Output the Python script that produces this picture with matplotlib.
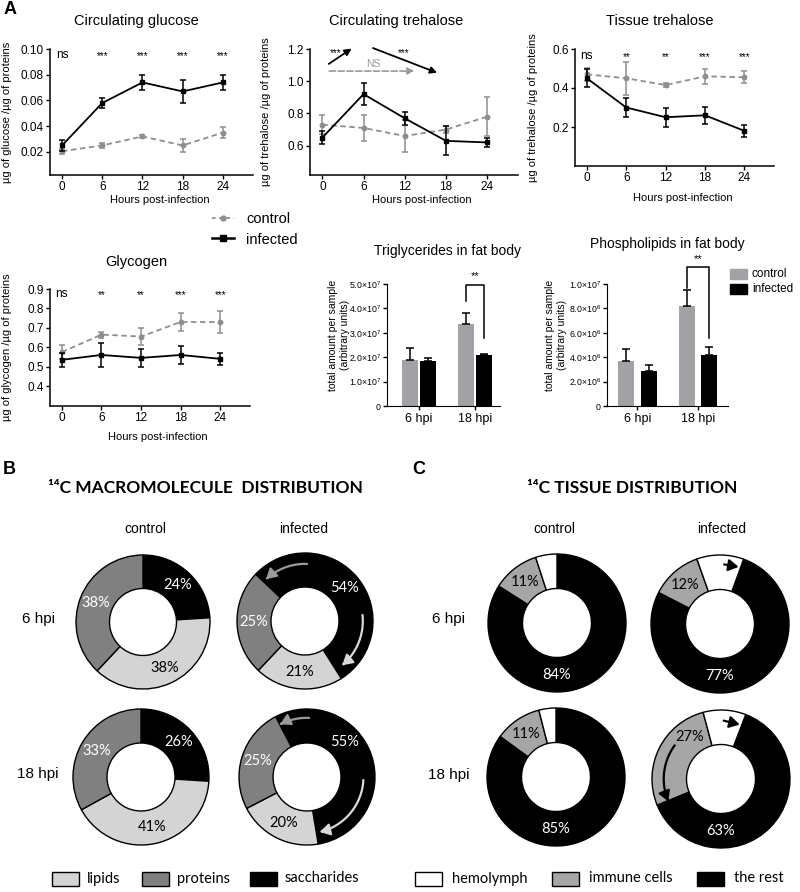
import numpy as np
import matplotlib
matplotlib.use("Agg")
import matplotlib.pyplot as plt
from matplotlib.lines import Line2D
from matplotlib.patches import FancyArrowPatch, Rectangle
from matplotlib.path import Path

plt.rcParams['font.family'] = ['Liberation Sans', 'DejaVu Sans']
plt.rcParams['mathtext.default'] = 'regular'

# ---------------- DATA ----------------
hours = [0, 6, 12, 18, 24]

glucose_ctrl = [0.0205, 0.025, 0.032, 0.025, 0.035]
glucose_ctrl_err = [0.002, 0.002, 0.001, 0.005, 0.004]
glucose_inf = [0.025, 0.058, 0.074, 0.067, 0.074]
glucose_inf_err = [0.004, 0.004, 0.006, 0.009, 0.006]
glucose_stars = ['ns', '***', '***', '***', '***']

treh_ctrl = [0.73, 0.71, 0.66, 0.70, 0.78]
treh_ctrl_err = [0.06, 0.08, 0.10, 0.02, 0.12]
treh_inf = [0.65, 0.92, 0.77, 0.63, 0.62]
treh_inf_err = [0.04, 0.07, 0.04, 0.09, 0.03]

tissue_ctrl = [0.47, 0.45, 0.415, 0.46, 0.455]
tissue_ctrl_err = [0.035, 0.085, 0.01, 0.04, 0.03]
tissue_inf = [0.45, 0.30, 0.25, 0.26, 0.18]
tissue_inf_err = [0.045, 0.05, 0.05, 0.045, 0.03]
tissue_stars = ['ns', '**', '**', '***', '***']

glyco_ctrl = [0.575, 0.665, 0.655, 0.73, 0.73]
glyco_ctrl_err = [0.035, 0.015, 0.045, 0.045, 0.057]
glyco_inf = [0.535, 0.56, 0.545, 0.56, 0.54]
glyco_inf_err = [0.035, 0.063, 0.045, 0.045, 0.03]
glyco_stars = ['ns', '**', '**', '***', '***']

bar_groups = ['6 hpi', '18 hpi']
trig_ctrl = [1.9e7, 3.37e7]
trig_ctrl_err = [0.48e7, 0.43e7]
trig_inf = [1.85e7, 2.1e7]
trig_inf_err = [0.1e7, 0.03e7]
trig_yticks = [0, 1e7, 2e7, 3e7, 4e7, 5e7]
trig_yticklabels = ['0', '1.0×10$^{7}$', '2.0×10$^{7}$', '3.0×10$^{7}$', '4.0×10$^{7}$', '5.0×10$^{7}$']

phos_ctrl = [3.7e6, 8.2e6]
phos_ctrl_err = [1.0e6, 1.3e6]
phos_inf = [2.9e6, 4.2e6]
phos_inf_err = [0.45e6, 0.6e6]
phos_yticks = [0, 2e6, 4e6, 6e6, 8e6, 1e7]
phos_yticklabels = ['0', '2.0×10$^{6}$', '4.0×10$^{6}$', '6.0×10$^{6}$', '8.0×10$^{6}$', '1.0×10$^{7}$']

# donuts: order ctrl 6, inf 6, ctrl 18, inf 18
lipids = [38, 21, 41, 20]
proteins = [38, 25, 33, 25]
saccharides = [24, 54, 26, 55]

hemolymph = [5, 11, 4, 10]
immune_cells = [11, 12, 11, 27]
the_rest = [84, 77, 85, 63]

# ---------------- LAYOUT ----------------
W, H = 800, 892
fig = plt.figure(figsize=(W / 100, H / 100), dpi=100)

ov = fig.add_axes([0, 0, 1, 1])
ov.set_xlim(0, W)
ov.set_ylim(H, 0)
ov.axis('off')


def add_ax(l, t, r, b):
    return fig.add_axes([l / W, 1 - b / H, (r - l) / W, (b - t) / H])


CTRL_C = '#8e8e8e'
BAR_GREY = '#a2a2a6'
CAL = ['Lato', 'DejaVu Sans']


def line_panel(box, ylim, yticks, yfmt, ctrl, ctrl_err, inf, inf_err,
               title, title_xy, ylabel, ylab_x, xlab_y, stars=None, star_frac=0.95):
    l, t, r, b = box
    ax = add_ax(l, t, r, b)
    ax.patch.set_alpha(0)
    ax.errorbar(hours, ctrl, yerr=ctrl_err, color=CTRL_C, ls='--', lw=1.3,
                marker='o', ms=3.2, capsize=2, elinewidth=1.1, capthick=1.1,
                dashes=(3, 2), clip_on=False, zorder=3)
    ax.errorbar(hours, inf, yerr=inf_err, color='black', ls='-', lw=1.3,
                marker='s', ms=3.5, capsize=2, elinewidth=1.1, capthick=1.1,
                clip_on=False, zorder=4)
    ax.set_xlim(-1.8, 28.5)
    ax.set_ylim(*ylim)
    ax.set_xticks(hours)
    ax.set_yticks(yticks)
    ax.set_yticklabels([yfmt.format(v) for v in yticks])
    for s in ['top', 'right']:
        ax.spines[s].set_visible(False)
    for s in ['left', 'bottom']:
        ax.spines[s].set_linewidth(1.1)
    ax.tick_params(labelsize=8.5, length=3, width=1, pad=1.5)
    ov.text(title_xy[0], title_xy[1], title, fontsize=10.5, ha='center', va='center')
    ov.text(ylab_x, (t + b) / 2, ylabel, fontsize=8, rotation=90, ha='center', va='center')
    ov.text((l + r) / 2 + 8, xlab_y, 'Hours post-infection', fontsize=8, ha='center', va='center')
    if stars:
        for h, s in zip(hours, stars):
            if s == 'ns':
                ax.text(h, star_frac, s, transform=ax.get_xaxis_transform(),
                        fontsize=8.5, ha='center', va='center')
            else:
                ax.text(h, star_frac - 0.005, s, transform=ax.get_xaxis_transform(),
                        fontsize=7, ha='center', va='center')
    return ax


# Panel A, row 1
ov.text(10, 9, 'A', fontsize=13, fontweight='bold', ha='center', va='center')
ax_g = line_panel((50, 49, 253, 175), (0.002, 0.10), [0.02, 0.04, 0.06, 0.08, 0.10], '{:.2f}',
                  glucose_ctrl, glucose_ctrl_err, glucose_inf, glucose_inf_err,
                  'Circulating glucose', (136, 21), 'µg of glucose /µg of proteins', 7, 200,
                  glucose_stars, 0.95)
ax_t = line_panel((310, 49, 518, 175), (0.418, 1.2), [0.6, 0.8, 1.0, 1.2], '{:.1f}',
                  treh_ctrl, treh_ctrl_err, treh_inf, treh_inf_err,
                  'Circulating trehalose', (396, 21), 'µg of trehalose /µg of proteins', 266, 200)
ax_s = line_panel((575, 49, 774, 166), (0.0, 0.6), [0.2, 0.4, 0.6], '{:.1f}',
                  tissue_ctrl, tissue_ctrl_err, tissue_inf, tissue_inf_err,
                  'Tissue trehalose', (660, 21), 'µg of trehalose /µg of proteins', 533, 198,
                  tissue_stars, 0.94)
ax_y = line_panel((50, 289, 250, 406), (0.297, 0.9), [0.4, 0.5, 0.6, 0.7, 0.8, 0.9], '{:.1f}',
                  glyco_ctrl, glyco_ctrl_err, glyco_inf, glyco_inf_err,
                  'Glycogen', (136, 262), 'µg of glycogen /µg of proteins', 7, 437,
                  glyco_stars, 0.955)

# trehalose annotations
ax_t.annotate('', xy=(4.6, 1.212), xytext=(0.6, 1.098),
              arrowprops=dict(arrowstyle='-|>', color='black', lw=1.3, mutation_scale=10),
              annotation_clip=False)
ax_t.annotate('', xy=(17.1, 1.046), xytext=(7.0, 1.212),
              arrowprops=dict(arrowstyle='-|>', color='black', lw=1.3, mutation_scale=10),
              annotation_clip=False)
ax_t.annotate('', xy=(13.8, 1.063), xytext=(0.6, 1.063),
              arrowprops=dict(arrowstyle='-|>', color='#999999', lw=1.2, ls='--',
                              mutation_scale=10), annotation_clip=False)
ax_t.text(1.9, 1.175, '***', fontsize=7, ha='center', va='center')
ax_t.text(11.8, 1.175, '***', fontsize=7, ha='center', va='center')
ax_t.text(7.4, 1.11, 'NS', fontsize=7.5, ha='center', va='center', color='#999999')

# Panel A legend
handles = [Line2D([], [], color=CTRL_C, ls='--', dashes=(2, 2), lw=1.3, marker='o', ms=3.5),
           Line2D([], [], color='black', ls='-', lw=1.8, marker='s', ms=4.5)]
fig.legend(handles, ['control', 'infected'], loc='upper left',
           bbox_to_anchor=(212 / W, 1 - 212 / H), frameon=False, fontsize=10.5,
           handlelength=1.5, handletextpad=0.85, labelspacing=0.45, borderpad=0,
           borderaxespad=0)


def bar_panel(box, xlim, off, width, ctrl, ctrl_err, inf, inf_err, yticks, yticklabels,
              title, title_xy, ylab_x, bracket):
    l, t, r, b = box
    ax = add_ax(l, t, r, b)
    ax.patch.set_alpha(0)
    x = np.arange(len(bar_groups))
    ax.bar(x - off, ctrl, width, color=BAR_GREY, yerr=[np.zeros(len(ctrl)), ctrl_err],
           error_kw=dict(ecolor='black', elinewidth=1.1, capsize=3, capthick=1.1),
           label='control', zorder=2)
    ax.bar(x + off, inf, width, color='black', yerr=[np.zeros(len(inf)), inf_err],
           error_kw=dict(ecolor='black', elinewidth=1.1, capsize=3, capthick=1.1),
           label='infected', zorder=2)
    ax.set_xlim(*xlim)
    ax.set_ylim(0, yticks[-1])
    ax.set_xticks(x)
    ax.set_xticklabels(bar_groups, fontsize=9)
    ax.set_yticks(yticks)
    ax.set_yticklabels(yticklabels, fontsize=6.3)
    for s in ['top', 'right']:
        ax.spines[s].set_visible(False)
    ax.tick_params(axis='y', length=3, width=1, pad=1.5)
    ax.tick_params(axis='x', length=3, width=1, pad=2)
    ov.text(title_xy[0], title_xy[1], title, fontsize=10, ha='center', va='center')
    ov.text(ylab_x, (t + b) / 2 - 10, 'total amount per sample\n(arbitrary units)', fontsize=7.5,
            rotation=90, ha='center', va='center', linespacing=1.15)
    top_y, lb, rb = bracket
    gx = x[1]
    ax.plot([gx - off, gx - off, gx + off, gx + off], [lb, top_y, top_y, rb],
            color='black', lw=1.1, clip_on=False)
    ax.text(gx, top_y + 0.03 * yticks[-1], '**', fontsize=8, ha='center', va='bottom')
    return ax


bar_panel((387, 284, 500, 406), (-0.574, 1.454), 0.16, 0.285,
          trig_ctrl, trig_ctrl_err, trig_inf, trig_inf_err, trig_yticks, trig_yticklabels,
          'Triglycerides in fat body', (447, 251), 339, (4.97e7, 4.29e7, 2.78e7))
bar_panel((607, 284, 728, 406), (-0.5, 1.495), 0.185, 0.265,
          phos_ctrl, phos_ctrl_err, phos_inf, phos_inf_err, phos_yticks, phos_yticklabels,
          'Phospholipids in fat body', (667, 244), 556, (11.37e6, 9.65e6, 5.55e6))

# bar legend
for yy, col, lab in [(274, BAR_GREY, 'control'), (289, 'black', 'infected')]:
    ov.add_patch(Rectangle((730, yy - 5), 17, 10, color=col))
    ov.text(752, yy, lab, fontsize=8.5, ha='left', va='center')


# ---------------- donuts ----------------
def arc_arrow(ax, r, a0, a1, color, lw=1.6):
    th = np.radians(np.linspace(a0, a1, 40))
    p = Path(np.column_stack([r * np.cos(th), r * np.sin(th)]))
    ax.add_patch(FancyArrowPatch(path=p, arrowstyle='-|>,head_length=0.6,head_width=0.35',
                                 mutation_scale=10, color=color, lw=lw, zorder=5))


def donut(cx, cy, R, values, colors, txtcols, startangle, label_angles=None, rlab=0.76,
          fs=10.5):
    ax = add_ax(cx - 1.1 * R, cy - 1.1 * R, cx + 1.1 * R, cy + 1.1 * R)
    wedges, _ = ax.pie(values, colors=colors, startangle=startangle, counterclock=False,
                       radius=1, wedgeprops=dict(width=0.5, edgecolor='black', linewidth=1.0))
    ax.set_xlim(-1.1, 1.1)
    ax.set_ylim(-1.1, 1.1)
    ax.set_aspect('equal')
    ax.axis('off')
    for i, (w, v, tc) in enumerate(zip(wedges, values, txtcols)):
        if tc is None:
            continue
        a = (w.theta1 + w.theta2) / 2
        if label_angles and label_angles.get(i) is not None:
            a = label_angles[i]
        ax.text(rlab * np.cos(np.radians(a)), rlab * np.sin(np.radians(a)), f'{v}%',
                color=tc, fontsize=fs, ha='center', va='center', family=CAL)
    return ax


# Panel B
ov.text(9, 469, 'B', fontsize=13, fontweight='bold', ha='center', va='center')
ov.text(205, 488, '¹⁴C MACROMOLECULE  DISTRIBUTION', fontsize=12.5, fontweight='bold',
        ha='center', va='center', family=CAL)
ov.text(145, 529, 'control', fontsize=10, ha='center', va='center')
ov.text(304, 529, 'infected', fontsize=10, ha='center', va='center')
ov.text(38, 619, '6 hpi', fontsize=11, ha='center', va='center')
ov.text(38, 774, '18 hpi', fontsize=11, ha='center', va='center')

B_COL = ['black', '#d4d4d4', '#808080']
B_TXT = ['white', 'black', 'white']
B_pos = [(143, 622, 67), (305, 621, 68), (141, 777, 68), (307, 777, 68)]
B_start = [90, 136.6, 90, 117.5]
B_override = [None, None, None, {0: 43}]
b_axes = []
for k in range(4):
    cx, cy, R = B_pos[k]
    vals = [saccharides[k], lipids[k], proteins[k]]
    b_axes.append(donut(cx, cy, R, vals, B_COL, B_TXT, B_start[k], B_override[k]))
arc_arrow(b_axes[1], 0.84, 88, 133, '#9a9a9a')
arc_arrow(b_axes[1], 0.85, 6, -50, '#d9d9d9')
arc_arrow(b_axes[3], 0.87, 88, 117, '#9a9a9a')
arc_arrow(b_axes[3], 0.83, -3, -77, '#d9d9d9')

for (x0, lab, col) in [(52, 'lipids', '#d4d4d4'), (142, 'proteins', '#808080'),
                       (250, 'saccharides', 'black')]:
    ov.add_patch(Rectangle((x0, 871.5), 27, 14, facecolor=col, edgecolor='black', lw=1))
    ov.text(x0 + 35, 878.5, lab, fontsize=10.5, ha='left', va='center', family=CAL)

# Panel C
ov.text(419, 469, 'C', fontsize=13, fontweight='bold', ha='center', va='center')
ov.text(632, 488, '¹⁴C TISSUE DISTRIBUTION', fontsize=12.5, fontweight='bold',
        ha='center', va='center', family=CAL)
ov.text(554, 529, 'control', fontsize=10, ha='center', va='center')
ov.text(722, 529, 'infected', fontsize=10, ha='center', va='center')
ov.text(448, 619, '6 hpi', fontsize=11, ha='center', va='center')
ov.text(449, 775, '18 hpi', fontsize=11, ha='center', va='center')

C_COL = ['black', '#a6a6a6', 'white']
C_TXT = ['white', 'black', None]
C_pos = [(557, 623, 69), (720, 624, 69), (556, 777, 69), (721, 779, 69)]
C_start = [90, 70, 90, 69]
C_override = [{0: -90}, {0: -90}, {0: -90}, {0: -90, 1: 127}]
c_axes = []
for k in range(4):
    cx, cy, R = C_pos[k]
    vals = [the_rest[k], immune_cells[k], hemolymph[k]]
    c_axes.append(donut(cx, cy, R, vals, C_COL, C_TXT, C_start[k], C_override[k]))

for ax, p0, p1 in [(c_axes[1], (0.02, 0.87), (0.31, 0.82)), (c_axes[3], (0.0, 0.855), (0.31, 0.78))]:
    ax.add_patch(FancyArrowPatch(p0, p1, arrowstyle='-|>,head_length=0.6,head_width=0.35',
                                 mutation_scale=10, color='black', lw=1.6, zorder=5))
arc_arrow(c_axes[3], 0.83, 144, 203, 'black')

for (x0, lab, col) in [(415, 'hemolymph', 'white'), (552, 'immune cells', '#a6a6a6'),
                       (697, 'the rest', 'black')]:
    ov.add_patch(Rectangle((x0, 871.5), 27, 14, facecolor=col, edgecolor='black', lw=1))
    ov.text(x0 + 37, 878.5, lab, fontsize=10.5, ha='left', va='center', family=CAL)

fig.savefig('out.png', dpi=100)
